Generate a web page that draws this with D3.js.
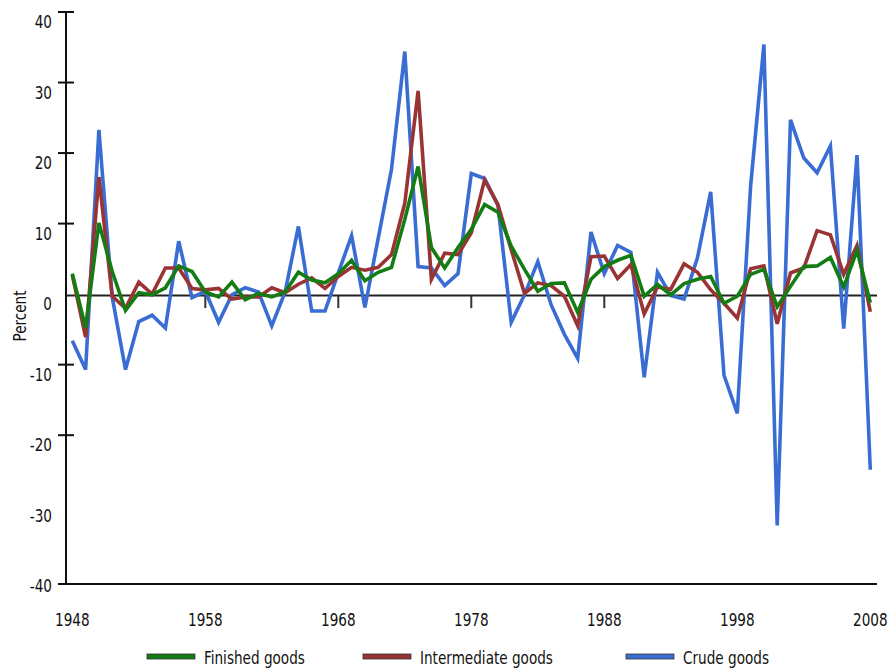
<!DOCTYPE html>
<html>
<head>
<meta charset="utf-8">
<script src="https://cdn.jsdelivr.net/npm/d3@7"></script>
<style>
  body { margin: 0; background: #fff; }
  svg text { font-family: "DejaVu Sans Condensed", "DejaVu Sans", sans-serif; font-stretch: condensed; fill: #111; }
</style>
</head>
<body>
<div class="ppi-chart"></div>
<script>
// annual % change
var years = d3.range(1948, 2009)

var finishedGoods = [2.9, -4.8, 10.1, 3.2, -2.3, 0.2, -0.1, 0.9, 4.0, 3.2,
	0.3, -0.4, 1.7, -0.8, 0.1, -0.4, 0.3, 3.1, 2.0, 1.6,
	2.9, 4.8, 1.9, 3.1, 3.8, 10.6, 18.1, 6.6, 3.7, 6.6,
	9.2, 12.7, 11.6, 6.8, 3.5, 0.4, 1.5, 1.6, -2.6, 2.1,
	3.9, 4.8, 5.5, -0.3, 1.4, -0.1, 1.5, 2.1, 2.5, -1.3,
	-0.3, 2.8, 3.5, -1.8, 1.1, 3.9, 4.0, 5.2, 1.0, 6.2,
	-1.2]

var intermediateGoods = [2.7, -6.1, 16.6, -0.3, -2.0, 1.7, 0.0, 3.7, 3.7, 0.8,
	0.6, 0.8, -0.7, -0.4, -0.4, 0.9, 0.2, 1.4, 2.3, 0.8,
	2.5, 3.8, 3.4, 3.8, 5.6, 12.9, 28.8, 2.1, 5.8, 5.6,
	8.7, 16.2, 12.7, 6.3, 0.1, 1.6, 1.2, -0.3, -4.5, 5.3,
	5.4, 2.2, 4.2, -2.8, 1.0, 0.7, 4.3, 3.1, 0.6, -1.3,
	-3.4, 3.6, 4.0, -4.2, 3.0, 3.7, 9.0, 8.4, 2.8, 6.9,
	-2.5]

var crudeGoods = [-6.6, -10.7, 23.3, -0.4, -10.7, -3.9, -3.0, -4.8, 7.5, -0.5,
	0.4, -4.0, -0.1, 0.9, 0.3, -4.5, 0.3, 9.6, -2.4, -2.4,
	3.0, 8.3, -1.9, 7.9, 17.7, 34.4, 3.9, 3.7, 1.2, 2.9,
	17.1, 16.4, 12.6, -4.0, -0.1, 4.6, -1.5, -5.7, -9.1, 8.8,
	2.9, 6.9, 5.9, -11.8, 3.1, -0.2, -0.7, 5.1, 14.5, -11.5,
	-16.9, 15.3, 35.4, -32.8, 24.7, 19.3, 17.2, 21.0, -4.9, 19.7,
	-24.9]

var seriesNames = ["Finished goods", "Intermediate goods", "Crude goods"]
var seriesColors = ["#137d13", "#9a3434", "#3a6dd3"]

var xTickYears = [1948, 1958, 1968, 1978, 1988, 1998, 2008]
var zeroTickYears = [1958, 1968, 1978, 1988]
var yTickValues = [40, 30, 20, 10, 0, -10, -20, -30, -40]
var yTickMarks = [40, 30, 20, 10, -10, -20]

var Chart = {}

// narrow the text a bit, the original uses a condensed face
Chart.squeeze = 0.84

Chart.place = function (sel, fx, fy) {
	sel.attr("transform", function (d, i) {
		return "translate(" + fx(d, i) + "," + fy(d, i) + ") scale(" + Chart.squeeze + ",1)"
	})
}

Chart.draw = function () {
	var width = 892, height = 669

	var svg = d3.select('.ppi-chart').append("svg")
		.attr("width", width)
		.attr("height", height)

	var x = d3.scaleLinear()
		.domain([1948, 2008])
		.range([72.3, 870.3])

	// bottom of the domain sits a little under -40, like the original
	var y = d3.scaleLinear()
		.domain([-41.1, 40])
		.range([584, 12])

	var axisLeftX = 66

	// y axis line + ticks
	svg.append("line")
		.attr("x1", axisLeftX).attr("x2", axisLeftX)
		.attr("y1", y(40)).attr("y2", y(-41.1))
		.attr("stroke", "#111").attr("stroke-width", 2)

	svg.selectAll(".ytick")
		.data(yTickMarks)
		.enter().append("line")
		.attr("class", "ytick")
		.attr("x1", axisLeftX - 8).attr("x2", axisLeftX + 8)
		.attr("y1", function (d) { return y(d) })
		.attr("y2", function (d) { return y(d) })
		.attr("stroke", "#111").attr("stroke-width", 2)

	var ylabels = svg.selectAll(".ylabel")
		.data(yTickValues)
		.enter().append("text")
		.attr("class", "ylabel")
		.attr("text-anchor", "end")
		.style("font-size", "18px")
		.text(function (d) { return d })
	Chart.place(ylabels, function () { return 52 }, function (d) { return y(d) + 16 })

	svg.append("text")
		.attr("transform", "translate(26,316) rotate(-90) scale(" + Chart.squeeze + ",1)")
		.attr("text-anchor", "middle")
		.style("font-size", "18px")
		.text("Percent")

	// bottom axis line
	svg.append("line")
		.attr("x1", 58).attr("x2", 877)
		.attr("y1", y(-41.1)).attr("y2", y(-41.1))
		.attr("stroke", "#111").attr("stroke-width", 2)

	var xlabels = svg.selectAll(".xlabel")
		.data(xTickYears)
		.enter().append("text")
		.attr("class", "xlabel")
		.attr("text-anchor", "middle")
		.style("font-size", "18px")
		.text(function (d) { return d })
	Chart.place(xlabels, function (d) { return x(d) }, function () { return 626 })

	// zero line with small year ticks
	svg.append("line")
		.attr("x1", axisLeftX).attr("x2", 877)
		.attr("y1", y(0) + 1.5).attr("y2", y(0) + 1.5)
		.attr("stroke", "#222").attr("stroke-width", 2)

	svg.selectAll(".ztick")
		.data(zeroTickYears)
		.enter().append("line")
		.attr("class", "ztick")
		.attr("x1", function (d) { return x(d) })
		.attr("x2", function (d) { return x(d) })
		.attr("y1", y(0) + 1.5).attr("y2", y(0) + 14)
		.attr("stroke", "#333").attr("stroke-width", 2)

	var line = d3.line()
		.x(function (d, i) { return x(years[i]) })
		.y(function (d) { return y(d) })

	// draw crude first so the green sits on top
	var allSeries = [finishedGoods, intermediateGoods, crudeGoods]
	var order = [2, 1, 0]
	order.forEach(function (k) {
		svg.append("path")
			.datum(allSeries[k])
			.attr("fill", "none")
			.attr("stroke", seriesColors[k])
			.attr("stroke-width", 3.6)
			.attr("stroke-linejoin", "miter")
			.attr("d", line)
	})

	// legend
	var legendX = [147, 363, 626]
	var legend = svg.selectAll(".legend")
		.data(seriesNames)
		.enter().append("g")
		.attr("class", "legend")
		.attr("transform", function (d, i) { return "translate(" + legendX[i] + ",654)" })

	legend.append("rect")
		.attr("width", 48).attr("height", 5)
		.attr("fill", function (d, i) { return seriesColors[i] })
		.attr("stroke", "#333").attr("stroke-width", 0.8)

	var ltext = legend.append("text")
		.style("font-size", "18px")
		.text(function (d) { return d })
	Chart.place(ltext, function () { return 57 }, function () { return 10 })
}

Chart.draw()
</script>
</body>
</html>
